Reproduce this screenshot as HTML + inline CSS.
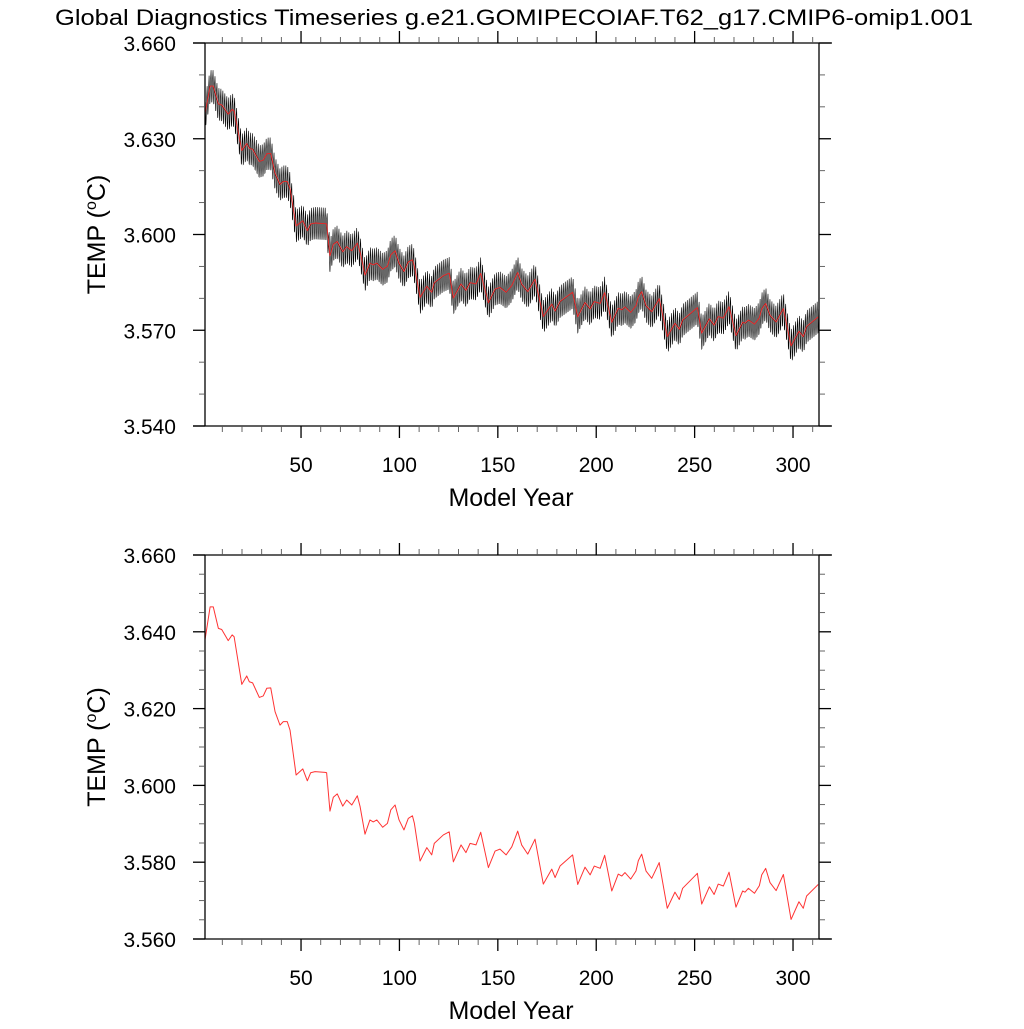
<!DOCTYPE html>
<html><head><meta charset="utf-8">
<style>
html,body{margin:0;padding:0;background:#fff;}
svg text{font-family:"Liberation Sans",Arial,sans-serif;fill:#000;}
</style></head>
<body>
<svg id="chart" width="1024" height="1024" viewBox="0 0 1024 1024" xmlns="http://www.w3.org/2000/svg">
<rect width="1024" height="1024" fill="#fff"/>
<text x="514" y="25" font-size="22" text-anchor="middle" textLength="918" lengthAdjust="spacingAndGlyphs">Global Diagnostics Timeseries g.e21.GOMIPECOIAF.T62_g17.CMIP6-omip1.001</text>
<g id="top"></g>
<g id="bottom"></g>
</svg>
<script>
// annual-mean TEMP (year, value)
const years = [1.2,3.8,5.4,8,9.7,13,15,16,19.9,22.4,23.7,25.4,28.8,30.8,32.6,34.6,36.8,39.3,41,43,44.4,47.5,50.9,53.2,54.9,57.1,62.2,63,64.7,66.4,68.4,71.2,73.2,75.8,78.6,80,82.5,85,86.7,88.5,91.5,93.9,95.6,97.8,99.8,102.3,104.5,106.6,107.6,110.5,113.9,116.4,117.7,122.3,125.3,127.4,131.3,133.8,135.9,138.9,141.3,145.2,148.6,151.1,154.2,157.1,160.1,162.1,165.2,168.9,173.1,177.4,179.1,181.6,188,190.6,194.3,196.9,199,202,204.3,207.9,211.2,213,214.6,217.5,220.2,221.4,223.1,225.3,228.2,232,236.1,240,242.2,243.9,249.3,251.4,253.6,257.5,259.9,262,264.6,267.5,271,274.4,275.6,277.3,280.4,282.9,284.1,286.1,288.3,291.4,295.1,299,303,305.2,306.9,312.8];
const temps = [3.6379,3.6465,3.6465,3.6409,3.6406,3.6377,3.6392,3.6387,3.6263,3.6285,3.6270,3.6267,3.6229,3.6233,3.6253,3.6254,3.6192,3.6157,3.6166,3.6166,3.6144,3.6027,3.6043,3.6012,3.6033,3.6036,3.6034,3.6033,3.5933,3.5969,3.5978,3.5946,3.5962,3.5949,3.5973,3.5945,3.5873,3.5910,3.5905,3.5910,3.5891,3.5901,3.5936,3.5949,3.5910,3.5884,3.5914,3.5921,3.5901,3.5803,3.5838,3.5819,3.5849,3.5871,3.5879,3.5801,3.5845,3.5825,3.5849,3.5845,3.5878,3.5786,3.5829,3.5834,3.5819,3.5840,3.5881,3.5845,3.5821,3.5860,3.5743,3.5782,3.5760,3.5790,3.5819,3.5742,3.5787,3.5767,3.5790,3.5784,3.5818,3.5725,3.5769,3.5764,3.5773,3.5756,3.5777,3.5804,3.5821,3.5777,3.5758,3.5799,3.5680,3.5722,3.5703,3.5732,3.5760,3.5771,3.5691,3.5736,3.5716,3.5743,3.5738,3.5774,3.5683,3.5725,3.5722,3.5732,3.5719,3.5739,3.5767,3.5784,3.5747,3.5726,3.5768,3.5651,3.5697,3.5680,3.5712,3.5742];
// monthly seasonal anomaly applied to the annual mean for the monthly series
const seasonal = [0.004,0.005,0.003,0.0,-0.003,-0.005,-0.005,-0.004,-0.002,0.0,0.002,0.003];
const xTicks = [50,100,150,200,250,300];
const topYTicks = [3.540,3.570,3.600,3.630,3.660];
const botYTicks = [3.560,3.580,3.600,3.620,3.640,3.660];

const NS="http://www.w3.org/2000/svg";
function mk(parent,tag,attrs){const e=document.createElementNS(NS,tag);for(const k in attrs)e.setAttribute(k,attrs[k]);parent.appendChild(e);return e;}
const X0=205,X1=819,YR0=1.2,YR1=313.2;
function xs(t){return X0+(t-YR0)/(YR1-YR0)*(X1-X0);}
function interp(t){
  if(t<=years[0])return temps[0];
  for(let i=1;i<years.length;i++){if(t<=years[i]){const f=(t-years[i-1])/(years[i]-years[i-1]);return temps[i-1]+f*(temps[i]-temps[i-1]);}}
  return temps[temps.length-1];
}
function panel(g,top,bot,ymin,ymax,yticks,minorStep,showBlack){
  const ys=v=>bot-(v-ymin)/(ymax-ymin)*(bot-top);
  const cid='clip'+top;
  const cp=mk(g,'clipPath',{id:cid});mk(cp,'rect',{x:X0,y:top,width:X1-X0,height:bot-top});
  const sg=mk(g,'g',{'clip-path':'url(#'+cid+')'});
  if(showBlack){
    let d='';let first=true;
    for(let t=YR0;t<=YR1;t+=1/12){
      const m=Math.round((t-YR0)*12)%12;
      let v=interp(t)+seasonal[m];
      if(t<1.3)v=3.631;
      d+=(first?'M':'L')+xs(t).toFixed(2)+','+ys(v).toFixed(2);first=false;
    }
    const bl=mk(sg,'path',{d:d,fill:'none',stroke:'#000','stroke-width':0.6});
    
    
  }
  let d2='';
  years.forEach((t,i)=>{d2+=(i?'L':'M')+xs(t).toFixed(2)+','+ys(temps[i]).toFixed(2);});
  const rl=mk(sg,'path',{d:d2,fill:'none',stroke:showBlack?'#e22':'#f33','stroke-width':showBlack?0.9:1,'stroke-linejoin':'round'});
  
  
  const ax=mk(g,'g',{stroke:'#000','stroke-width':1.3,fill:'none'});
  
  
  mk(ax,'line',{x1:193,y1:top,x2:832,y2:top});
  mk(ax,'line',{x1:193,y1:bot,x2:832,y2:bot});
  mk(ax,'line',{x1:X0,y1:top,x2:X0,y2:bot});
  mk(ax,'line',{x1:X1,y1:top,x2:X1,y2:bot});
  for(let yr=10;yr<=310;yr+=10){
    const x=xs(yr);const major=yr%50===0;const L=major?12:6;
    mk(ax,'line',{x1:x,y1:bot,x2:x,y2:bot+L,'stroke-width':major?1.3:0.9,stroke:major?'#000':'#555'});
    mk(ax,'line',{x1:x,y1:top,x2:x,y2:top-L,'stroke-width':major?1.3:0.9,stroke:major?'#000':'#555'});
  }
  xTicks.forEach(v=>{
    const t=mk(g,'text',{x:xs(v),y:bot+46,'font-size':21,'text-anchor':'middle'});t.textContent=v;
    
    
  });
  for(let v=ymin;v<=ymax+1e-9;v+=minorStep){
    const y=ys(v);const major=yticks.some(k=>Math.abs(k-v)<1e-6);const L=major?12:6;
    mk(ax,'line',{x1:X0,y1:y,x2:X0-L,y2:y,'stroke-width':major?1.3:0.9,stroke:major?'#000':'#555'});
    mk(ax,'line',{x1:X1,y1:y,x2:X1+L,y2:y,'stroke-width':major?1.3:0.9,stroke:major?'#000':'#555'});
  }
  yticks.forEach(v=>{
    const t=mk(g,'text',{x:176,y:ys(v)+8,'font-size':21,'text-anchor':'end'});t.textContent=v.toFixed(3);
    
    
  });
  const xt=mk(g,'text',{x:511,y:bot+80,'font-size':25,'text-anchor':'middle'});xt.textContent='Model Year';
  
  
  const cy=(top+bot)/2;
  const yt=mk(g,'text',{x:0,y:0,'font-size':25,'text-anchor':'middle',transform:'translate(105,'+cy+') rotate(-90)'});
  yt.innerHTML='TEMP (<tspan font-size="16" dy="-9">o</tspan><tspan dy="9">C)</tspan>';
  
  
}
const gt=document.getElementById('top');


panel(gt,43,426,3.540,3.660,topYTicks,0.01,true);
const gb=document.getElementById('bottom');


panel(gb,555,939,3.560,3.660,botYTicks,0.005,false);
</script>
</body></html>
